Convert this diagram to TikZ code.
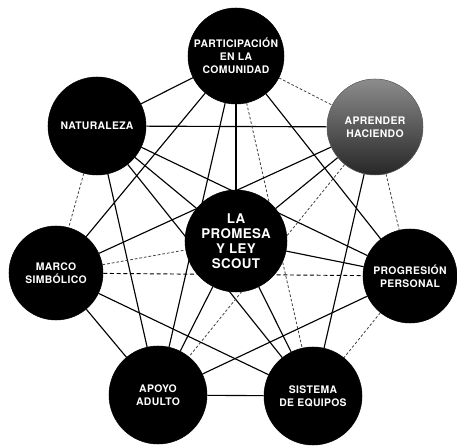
\documentclass[tikz,border=0pt]{standalone}
\usepackage{fontspec}
\usetikzlibrary{backgrounds}
\newfontfamily\lab[LetterSpace=3.0]{TeX Gyre Heros}
\begin{document}
\begin{tikzpicture}[x=0.75pt,y=-0.75pt,
  circ/.style={circle,fill=black,draw=black,minimum size=#1*0.75pt,inner sep=0pt,
    text=white,align=center,font=\lab\bfseries\fontsize{7.8}{9.6}\selectfont},
  con/.style={draw=black,line width=0.85pt},
  dcon/.style={draw=black,line width=0.7pt,densely dashed},
  tcon/.style={draw=black!75,line width=0.6pt,dash pattern=on 2pt off 1.5pt}]
\useasboundingbox (0,0) rectangle (457,448);
\node[circ=96] (par) at (236,56) {PARTICIPACIÓN\\EN LA\\COMUNIDAD};
\node[circ=96,top color=black!45,bottom color=black!85,draw=black!60] (apr) at (375,127) {APRENDER\\HACIENDO};
\node[circ=98] (nat) at (97,126) {NATURALEZA};
\node[circ=102,font=\lab\bfseries\fontsize{10}{11.2}\selectfont] (pro) at (236,241) {LA\\PROMESA\\Y LEY\\SCOUT};
\node[circ=94] (mar) at (56,273) {MARCO\\SIMBÓLICO};
\node[circ=94] (prg) at (410,276) {PROGRESIÓN\\PERSONAL};
\node[circ=98] (apo) at (158,395) {APOYO\\ADULTO};
\node[circ=98] (sis) at (313,396) {SISTEMA\\DE EQUIPOS};
\begin{scope}[on background layer]
\path[con] (par) -- (pro);
\path[con] (nat) -- (apr);
\path[con] (apo) -- (sis);
\path[con] (par) -- (nat);
\path[tcon] (par) -- (apr);
\path[tcon] (nat) -- (mar);
\path[tcon] (apr) -- (prg);
\path[con] (mar) -- (apo);
\path[tcon] (prg) -- (sis);
\path[dcon] (mar) -- (prg);
\path[con] (par) -- (apo);
\path[tcon] (par) -- (sis);
\path[con] (par) -- (mar);
\path[con] (par) -- (prg);
\path[con] (nat) -- (prg);
\path[con] (nat) -- (sis);
\path[con] (nat) -- (apo);
\path[con] (nat) -- (pro);
\path[con] (apr) -- (mar);
\path[tcon] (apr) -- (apo);
\path[con] (apr) -- (sis);
\path[con] (apr) -- (pro);
\path[con] (mar) -- (sis);
\path[tcon] (mar) -- (pro);
\path[con] (prg) -- (apo);
\path[con] (prg) -- (pro);
\path[con] (apo) -- (pro);
\path[con] (sis) -- (pro);
\end{scope}
\end{tikzpicture}
\end{document}
